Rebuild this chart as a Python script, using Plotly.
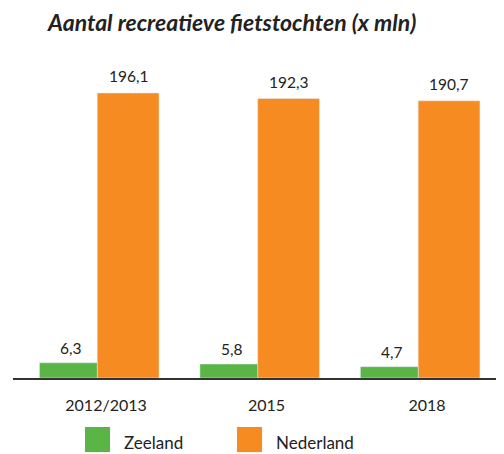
import plotly.graph_objects as go

jaren = ["2012/2013", "2015", "2018"]
zeeland = [6.3, 5.8, 4.7]
nederland = [196.1, 192.3, 190.7]

groen = "#5AB446"
oranje = "#F68B22"
tekst = "#222222"
fnt = "Lato"

def nl(v):
    return f"{v:.1f}".replace(".", ",")

fig = go.Figure()
# Zeeland op eigen (verborgen) as, zoals in het origineel uitvergroot
fig.add_trace(go.Bar(x=jaren, y=zeeland, name="Zeeland", marker_color=groen,
                     width=0.36, offset=-0.365, yaxis="y2", showlegend=False))
fig.add_trace(go.Bar(x=jaren, y=nederland, name="Nederland", marker_color=oranje,
                     width=0.385, offset=-0.005, showlegend=False))

ann = []
for i, (z, n) in enumerate(zip(zeeland, nederland)):
    ann.append(dict(x=i, y=z, xref="x", yref="y2", text=nl(z), showarrow=False,
                    yanchor="bottom", xshift=-27, yshift=4,
                    font=dict(size=15.5, color=tekst, family=fnt)))
    ann.append(dict(x=i, y=n, xref="x", yref="y", text=nl(n), showarrow=False,
                    yanchor="bottom", xshift=30, yshift=6,
                    font=dict(size=15.5, color=tekst, family=fnt)))

# legenda
for x0, kleur, naam in [(0.1466, groen, "Zeeland"), (0.4562, oranje, "Nederland")]:
    fig.add_shape(type="rect", xref="paper", yref="paper", x0=x0, x1=x0 + 0.051,
                  y0=-0.233, y1=-0.154, fillcolor=kleur, line_width=0)
    ann.append(dict(xref="paper", yref="paper", x=x0 + 0.0745, y=-0.203, text=naam,
                    showarrow=False, xanchor="left", yanchor="middle",
                    font=dict(size=17, color=tekst, family=fnt)))

fig.update_layout(
    width=496, height=446,
    margin=dict(l=5, r=0, t=52, b=76, autoexpand=False),
    plot_bgcolor="white", paper_bgcolor="white",
    title=dict(text="<b><i>Aantal recreatieve fietstochten (x mln)</i></b>", x=0.0806,
               xanchor="left", y=0.966, yanchor="middle",
               font=dict(size=23, color=tekst, family=fnt)),
    xaxis=dict(type="category", range=[-0.53, 2.53], autorange=False, showline=True,
               linecolor="#333", linewidth=2, ticks="", showgrid=False,
               tickfont=dict(size=16, color=tekst, family=fnt),
               ticklabelshift=8, ticklabelstandoff=12),
    yaxis=dict(range=[0, 218.8], autorange=False, visible=False),
    yaxis2=dict(range=[0, 132], autorange=False, visible=False, overlaying="y"),
    annotations=ann,
)

fig.write_html("out.html")
